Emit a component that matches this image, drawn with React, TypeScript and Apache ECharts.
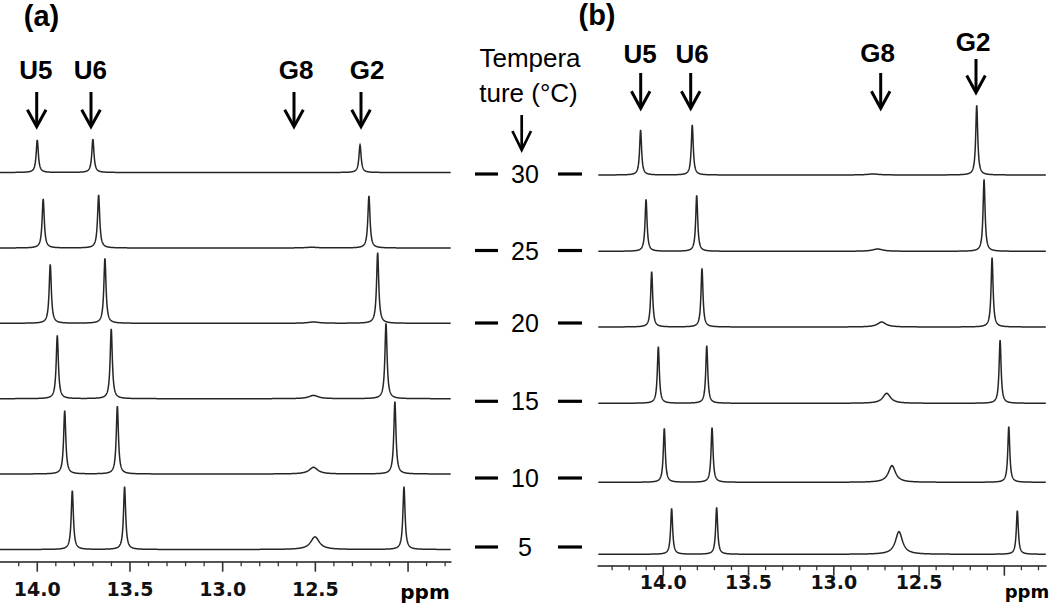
import React, { useEffect, useRef } from "react";
import * as echarts from "echarts";

// ---------- data ----------
const temperatures = [30, 25, 20, 15, 10, 5];

// vertical stacking offset of each spectrum (intensity units)
const stackOffsetA = [377, 301.5, 226.2, 150.8, 75.5, 0];
const stackOffsetB = [379.3, 303, 227.3, 151, 72, 0];

// Panel (a): peak positions (ppm) and intensities per temperature
const aU5ppm = [14.0, 13.968, 13.93, 13.892, 13.852, 13.811];
const aU5int = [32.7, 49, 59, 63.4, 63.3, 58.8];
const aU6ppm = [13.7, 13.669, 13.635, 13.601, 13.568, 13.529];
const aU6int = [33.4, 53, 65, 69.7, 68, 62.8];
const aG8ppm = [12.52, 12.52, 12.51, 12.51, 12.51, 12.502];
const aG8int = [0, 0.7, 1.3, 3.3, 6.7, 12.7];
const aG8hw = [0.04, 0.04, 0.035, 0.03, 0.028, 0.028];
const aG2ppm = [12.259, 12.211, 12.164, 12.119, 12.071, 12.022];
const aG2int = [27.7, 52, 70.6, 75.4, 72.3, 62.8];

// Panel (b)
const bU5ppm = [14.133, 14.101, 14.068, 14.029, 13.994, 13.951];
const bU5int = [45, 52, 55.3, 56.7, 54, 46];
const bU6ppm = [13.83, 13.804, 13.773, 13.745, 13.714, 13.687];
const bU6int = [50, 56, 58.7, 57.7, 54.7, 47];
const bG8ppm = [12.77, 12.743, 12.719, 12.69, 12.659, 12.618];
const bG8int = [1, 2.3, 5, 10, 16.7, 22.7];
const bG8hw = [0.04, 0.035, 0.03, 0.027, 0.025, 0.025];
const bG2ppm = [12.162, 12.119, 12.072, 12.025, 11.974, 11.924];
const bG2int = [69.7, 72, 69.3, 63.3, 55.7, 43.6];

const sharpHalfWidth = 0.007; // ppm, imino peaks

const majorTicks = [14.0, 13.5, 13.0, 12.5, 12.0];
const labeledTicks = [14.0, 13.5, 13.0, 12.5];
const minorTicksA = [14.1, 13.9, 13.8, 13.7, 13.6, 13.4, 13.3, 13.2, 13.1, 12.9, 12.8, 12.7, 12.6, 12.4, 12.3, 12.2, 12.1, 11.9, 11.8];
const minorTicksB = [14.3, 14.2, 14.1, 13.9, 13.8, 13.7, 13.6, 13.4, 13.3, 13.2, 13.1, 12.9, 12.8, 12.7, 12.6, 12.4, 12.3, 12.2, 12.1, 11.9, 11.8];

const peakNames = ["U5", "U6", "G8", "G2"];

// ---------- helpers ----------
type Peak = { c: number; h: number; w: number };

function buildPeaks(
  u5p: number[], u5i: number[], u6p: number[], u6i: number[],
  g8p: number[], g8i: number[], g8w: number[], g2p: number[], g2i: number[]
): Peak[][] {
  return temperatures.map((_, i) => [
    { c: u5p[i], h: u5i[i], w: sharpHalfWidth },
    { c: u6p[i], h: u6i[i], w: sharpHalfWidth },
    { c: g8p[i], h: g8i[i], w: g8w[i] },
    { c: g2p[i], h: g2i[i], w: sharpHalfWidth },
  ]);
}

const peaksA = buildPeaks(aU5ppm, aU5int, aU6ppm, aU6int, aG8ppm, aG8int, aG8hw, aG2ppm, aG2int);
const peaksB = buildPeaks(bU5ppm, bU5int, bU6ppm, bU6int, bG8ppm, bG8int, bG8hw, bG2ppm, bG2int);

const X_A = { min: 11.77, max: 14.201 };
const X_B = { min: 11.757, max: 14.381 };
const Y_A = { min: -12.2, max: 549.5 };
const Y_B = { min: -11.4, max: 554.3 };

function makeRender(peaksByTrace: Peak[][], xMin: number, xMax: number) {
  return (params: any, api: any) => {
    const i = api.value(2);
    const off = api.value(1);
    const peaks = peaksByTrace[i];
    const xs: number[] = [];
    for (let x = xMin; x <= xMax; x += 0.002) xs.push(x);
    xs.push(xMax);
    peaks.forEach((p) => {
      if (p.h <= 0) return;
      for (let k = -60; k <= 60; k++) xs.push(p.c + k * p.w * 0.2);
    });
    const sorted = xs.filter((x) => x >= xMin && x <= xMax).sort((a, b) => a - b);
    const pts = sorted.map((x) => {
      let y = off;
      peaks.forEach((p) => {
        const d = (x - p.c) / p.w;
        y += p.h / (1 + d * d);
      });
      return api.coord([x, y]);
    });
    return {
      type: "polyline",
      silent: true,
      shape: { points: pts },
      style: { stroke: "#262626", lineWidth: 1.5, fill: null },
    };
  };
}

// tick marks below the axis line (downwards), drawn through the x scale
function makeTickRender(yMin: number) {
  return (params: any, api: any) => {
    const v = api.value(0);
    const major = api.value(1) === 1;
    const p = api.coord([v, yMin]);
    const len = major ? 10 : 4.5;
    return {
      type: "line",
      silent: true,
      shape: { x1: p[0], y1: p[1], x2: p[0], y2: p[1] + len },
      style: { stroke: "#333", lineWidth: major ? 1.6 : 1.3 },
    };
  };
}

const SANS = "'Liberation Sans', Arial, Helvetica, sans-serif";
const TICKFONT = "'DejaVu Sans', sans-serif";

function txt(text: string, x: number, y: number, size: number, bold: boolean, family = SANS) {
  return {
    type: "text",
    x,
    y,
    silent: true,
    style: {
      text,
      fill: "#000",
      fontSize: size,
      fontWeight: bold ? "bold" : "normal",
      fontFamily: family,
      align: "center",
      verticalAlign: "middle",
      textAlign: "center",
      textVerticalAlign: "middle",
    },
  };
}

function arrow(x: number, y1: number, y2: number, lw: number, hw = 9.3, hh = 17) {
  return [
    { type: "line", silent: true, shape: { x1: x, y1, x2: x, y2: y2 - 1 }, style: { stroke: "#000", lineWidth: lw } },
    {
      type: "polyline",
      silent: true,
      shape: { points: [[x - hw, y2 - hh], [x, y2], [x + hw, y2 - hh]] },
      style: { stroke: "#000", lineWidth: lw, fill: null, lineJoin: "miter" },
    },
  ];
}

function xAxisMain(grid: number, ext: { min: number; max: number }, margin: number) {
  return {
    type: "value",
    gridIndex: grid,
    inverse: true,
    min: ext.min,
    max: ext.max,
    position: "bottom",
    axisLine: { show: true, onZero: false, lineStyle: { color: "#555", width: 2 } },
    axisTick: { show: false },
    axisLabel: {
      show: true,
      inside: false,
      customValues: labeledTicks,
      margin,
      formatter: (v: number) => v.toFixed(1),
      fontFamily: TICKFONT,
      fontWeight: "bold",
      fontSize: 19,
      color: "#111",
    },
    splitLine: { show: false },
  };
}

function tickData(minor: number[]) {
  return [...majorTicks.map((v) => [v, 1]), ...minor.map((v) => [v, 0])];
}

export default function App() {
  const ref = useRef<HTMLDivElement>(null);
  useEffect(() => {
    if (!ref.current) return;
    const chart = echarts.init(ref.current, null, { renderer: "svg" });

    const labelYA = 69.5;
    const labelXA = [35.8, 90.3, 296, 367];
    const arrowXA = [36.7, 91, 294, 361];
    const labelXB = [640, 692, 877.5, 973];
    const labelYB = [53.5, 53.5, 52.5, 42];
    const arrowXB = [640.7, 690.7, 880.7, 976];
    const arrowTopB = [73, 73, 73, 59];
    const arrowTipB = [108.3, 108.3, 108.3, 92.5];
    const tempY = [174, 250.5, 323, 401.3, 478, 547];

    const graphics: any[] = [];
    graphics.push(txt("(a)", 41.5, 16, 29, true));
    graphics.push(txt("(b)", 597, 15, 29, true));
    peakNames.forEach((n, k) => {
      graphics.push(txt(n, labelXA[k], labelYA, 26, true));
      graphics.push(...arrow(arrowXA[k], 92, 126.7, 3));
      graphics.push(txt(n, labelXB[k], labelYB[k], 26, true));
      graphics.push(...arrow(arrowXB[k], arrowTopB[k], arrowTipB[k], 3));
    });
    graphics.push(txt("Tempera", 530, 58, 26, false));
    graphics.push(txt("ture (°C)", 528.5, 93, 26, false));
    graphics.push(...arrow(521.7, 115, 150, 2.7, 9.3, 19));
    temperatures.forEach((t, i) => {
      graphics.push(txt(String(t), 525, tempY[i], 25, false));
      graphics.push({ type: "line", silent: true, shape: { x1: 475, y1: tempY[i], x2: 498, y2: tempY[i] }, style: { stroke: "#000", lineWidth: 3.2 } });
      graphics.push({ type: "line", silent: true, shape: { x1: 558, y1: tempY[i], x2: 582, y2: tempY[i] }, style: { stroke: "#000", lineWidth: 3.2 } });
    });
    graphics.push(txt("ppm", 425, 592, 20, true, TICKFONT));
    graphics.push(txt("ppm", 1027, 591, 18, true, TICKFONT));

    chart.setOption({
      animation: false,
      backgroundColor: "#fff",
      grid: [
        { left: 0, top: 0, width: 450.7, height: 561.7 },
        { left: 598.3, top: 0, width: 447.5, height: 565.7 },
      ],
      xAxis: [xAxisMain(0, X_A, 18), xAxisMain(1, X_B, 7)],
      yAxis: [
        { type: "value", gridIndex: 0, min: Y_A.min, max: Y_A.max, show: false },
        { type: "value", gridIndex: 1, min: Y_B.min, max: Y_B.max, show: false },
      ],
      series: [
        {
          type: "custom",
          name: "(a)",
          coordinateSystem: "cartesian2d",
          xAxisIndex: 0,
          yAxisIndex: 0,
          clip: false,
          encode: { x: 0, y: 1 },
          data: temperatures.map((t, i) => [13.0, stackOffsetA[i], i]),
          renderItem: makeRender(peaksA, X_A.min, X_A.max),
        },
        {
          type: "custom",
          name: "(b)",
          coordinateSystem: "cartesian2d",
          xAxisIndex: 1,
          yAxisIndex: 1,
          clip: false,
          encode: { x: 0, y: 1 },
          data: temperatures.map((t, i) => [13.0, stackOffsetB[i], i]),
          renderItem: makeRender(peaksB, X_B.min, X_B.max),
        },
        {
          type: "custom",
          name: "ticks (a)",
          coordinateSystem: "cartesian2d",
          xAxisIndex: 0,
          yAxisIndex: 0,
          clip: false,
          encode: { x: 0 },
          data: tickData(minorTicksA),
          renderItem: makeTickRender(Y_A.min),
        },
        {
          type: "custom",
          name: "ticks (b)",
          coordinateSystem: "cartesian2d",
          xAxisIndex: 1,
          yAxisIndex: 1,
          clip: false,
          encode: { x: 0 },
          data: tickData(minorTicksB),
          renderItem: makeTickRender(Y_B.min),
        },
      ],
      graphic: graphics,
    });
    return () => chart.dispose();
  }, []);
  return (
    <div
      ref={ref}
      style={{ position: "absolute", left: 0, top: 0, width: 1050, height: 608, background: "#fff" }}
    />
  );
}
